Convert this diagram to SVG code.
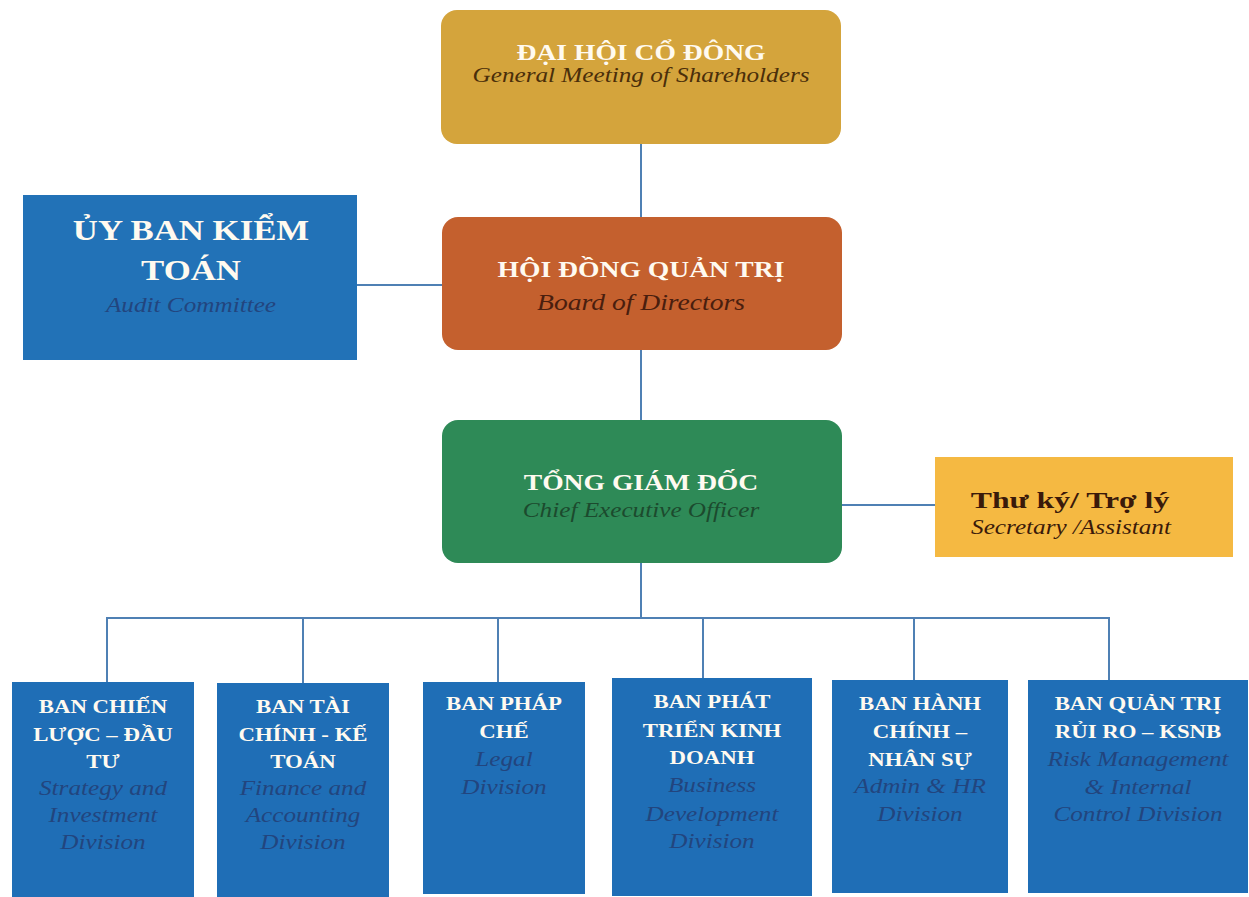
<svg xmlns="http://www.w3.org/2000/svg" width="1249" height="897" viewBox="0 0 1249 897">
<style>
.b{font-family:"Liberation Serif","Times New Roman",serif;font-weight:bold;fill:#fffaf0;text-anchor:middle}
.i{font-family:"Liberation Serif","Times New Roman",serif;font-style:italic;text-anchor:middle}
.blue{fill:#1f6eb6}
.ib{fill:#22457e}
.conn{stroke:#4f80b4;stroke-width:2;fill:none}
</style>
<rect width="1249" height="897" fill="#ffffff"/>
<g id="connectors" class="conn">
<line x1="641" y1="144" x2="641" y2="217"/>
<line x1="641" y1="350" x2="641" y2="420"/>
<line x1="356" y1="285" x2="442" y2="285"/>
<line x1="842" y1="505" x2="935" y2="505"/>
<line x1="641" y1="563" x2="641" y2="618"/>
<polyline points="107,682 107,618 1109,618 1109,680"/>
<line x1="303" y1="618" x2="303" y2="683"/>
<line x1="498" y1="618" x2="498" y2="682"/>
<line x1="703" y1="618" x2="703" y2="678"/>
<line x1="914" y1="618" x2="914" y2="680"/>
</g>
<g id="shareholders">
<rect x="441" y="10" width="400" height="134" rx="16" fill="#d4a43c"/>
<text class="b" font-size="23" transform="translate(641,60) scale(1.2,1)">ĐẠI HỘI CỔ ĐÔNG</text>
<text class="i" font-size="21" fill="#4a2e0a" transform="translate(641,82) scale(1.2,1)">General Meeting of Shareholders</text>
</g>
<g id="audit">
<rect x="23" y="195" width="334" height="165" fill="#2272b7"/>
<text class="b" font-size="29" transform="translate(191,240) scale(1.2,1)">ỦY BAN KIỂM</text>
<text class="b" font-size="29" transform="translate(191,280) scale(1.2,1)">TOÁN</text>
<text class="i ib" font-size="21" transform="translate(191,312) scale(1.2,1)">Audit Committee</text>
</g>
<g id="board">
<rect x="442" y="217" width="400" height="133" rx="16" fill="#c4602e"/>
<text class="b" font-size="23" transform="translate(641,277) scale(1.2,1)">HỘI ĐỒNG QUẢN TRỊ</text>
<text class="i" font-size="23" fill="#4a1e0e" transform="translate(641,310) scale(1.2,1)">Board of Directors</text>
</g>
<g id="ceo">
<rect x="442" y="420" width="400" height="143" rx="16" fill="#2e8a57"/>
<text class="b" font-size="23" transform="translate(641,490) scale(1.2,1)">TỔNG GIÁM ĐỐC</text>
<text class="i" font-size="21" fill="#1c4a2e" transform="translate(641,517) scale(1.2,1)">Chief Executive Officer</text>
</g>
<g id="secretary">
<rect x="935" y="457" width="298" height="100" fill="#f5b942"/>
<text class="b" font-size="23" style="fill:#3a1a0a" transform="translate(1070,508) scale(1.38,1)">Thư ký/ Trợ lý</text>
<text class="i" font-size="21" fill="#3a1a0a" transform="translate(1071,534) scale(1.2,1)">Secretary /Assistant</text>
</g>
<g id="strategy">
<rect class="blue" x="12" y="682" width="182" height="215"/>
<text class="b" font-size="19" transform="translate(103,713) scale(1.2,1)">BAN CHIẾN</text>
<text class="b" font-size="19" transform="translate(103,741) scale(1.2,1)">LƯỢC – ĐẦU</text>
<text class="b" font-size="19" transform="translate(103,768) scale(1.2,1)">TƯ</text>
<text class="i ib" font-size="21" transform="translate(103,795) scale(1.2,1)">Strategy and</text>
<text class="i ib" font-size="21" transform="translate(103,822) scale(1.2,1)">Investment</text>
<text class="i ib" font-size="21" transform="translate(103,849) scale(1.2,1)">Division</text>
</g>
<g id="finance">
<rect class="blue" x="217" y="683" width="172" height="214"/>
<text class="b" font-size="19" transform="translate(303,713) scale(1.2,1)">BAN TÀI</text>
<text class="b" font-size="19" transform="translate(303,741) scale(1.2,1)">CHÍNH - KẾ</text>
<text class="b" font-size="19" transform="translate(303,768) scale(1.2,1)">TOÁN</text>
<text class="i ib" font-size="21" transform="translate(303,795) scale(1.2,1)">Finance and</text>
<text class="i ib" font-size="21" transform="translate(303,822) scale(1.2,1)">Accounting</text>
<text class="i ib" font-size="21" transform="translate(303,849) scale(1.2,1)">Division</text>
</g>
<g id="legal">
<rect class="blue" x="423" y="682" width="162" height="212"/>
<text class="b" font-size="19" transform="translate(504,710) scale(1.2,1)">BAN PHÁP</text>
<text class="b" font-size="19" transform="translate(504,738) scale(1.2,1)">CHẾ</text>
<text class="i ib" font-size="21" transform="translate(504,766) scale(1.2,1)">Legal</text>
<text class="i ib" font-size="21" transform="translate(504,794) scale(1.2,1)">Division</text>
</g>
<g id="business">
<rect class="blue" x="612" y="678" width="200" height="218"/>
<text class="b" font-size="19" transform="translate(712,708) scale(1.2,1)">BAN PHÁT</text>
<text class="b" font-size="19" transform="translate(712,737) scale(1.2,1)">TRIỂN KINH</text>
<text class="b" font-size="19" transform="translate(712,764) scale(1.2,1)">DOANH</text>
<text class="i ib" font-size="21" transform="translate(712,792) scale(1.2,1)">Business</text>
<text class="i ib" font-size="21" transform="translate(712,821) scale(1.2,1)">Development</text>
<text class="i ib" font-size="21" transform="translate(712,848) scale(1.2,1)">Division</text>
</g>
<g id="admin">
<rect class="blue" x="832" y="680" width="176" height="213"/>
<text class="b" font-size="19" transform="translate(920,710) scale(1.2,1)">BAN HÀNH</text>
<text class="b" font-size="19" transform="translate(920,738) scale(1.2,1)">CHÍNH –</text>
<text class="b" font-size="19" transform="translate(920,766) scale(1.2,1)">NHÂN SỰ</text>
<text class="i ib" font-size="21" transform="translate(920,793) scale(1.2,1)">Admin &amp; HR</text>
<text class="i ib" font-size="21" transform="translate(920,821) scale(1.2,1)">Division</text>
</g>
<g id="risk">
<rect class="blue" x="1028" y="680" width="220" height="213"/>
<text class="b" font-size="19" transform="translate(1138,710) scale(1.2,1)">BAN QUẢN TRỊ</text>
<text class="b" font-size="19" transform="translate(1138,738) scale(1.2,1)">RỦI RO – KSNB</text>
<text class="i ib" font-size="21" transform="translate(1138,766) scale(1.2,1)">Risk Management</text>
<text class="i ib" font-size="21" transform="translate(1138,794) scale(1.2,1)">&amp; Internal</text>
<text class="i ib" font-size="21" transform="translate(1138,821) scale(1.2,1)">Control Division</text>
</g>
</svg>
